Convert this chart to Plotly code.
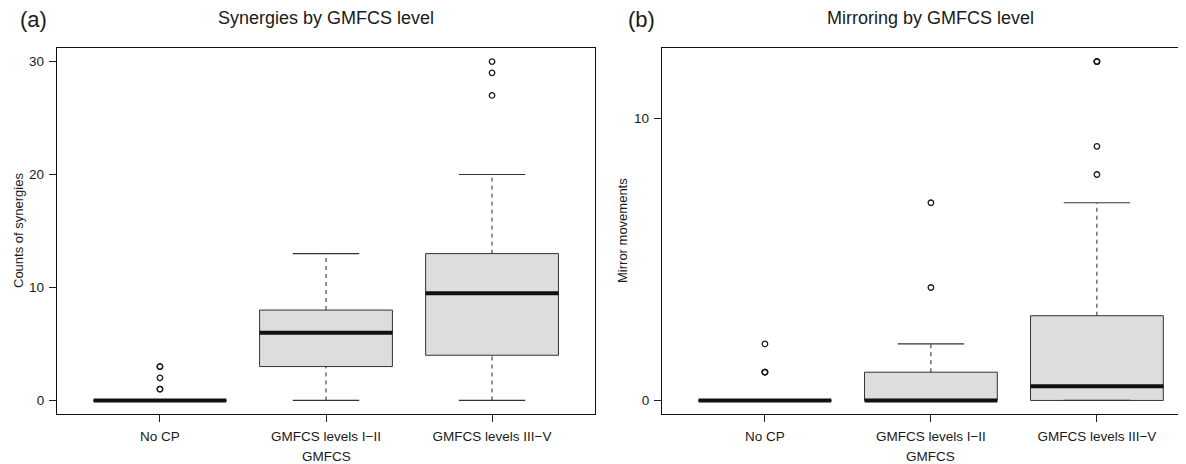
import plotly.graph_objects as go

# ---------------- data ----------------
categories = ["No CP", "GMFCS levels I\u2212II", "GMFCS levels III\u2212V"]
positions = [1, 2, 3]

# Panel (a): counts of synergies
syn_q1 = [0, 3, 4]
syn_median = [0, 6, 9.5]
syn_q3 = [0, 8, 13]
syn_lower = [0, 0, 0]
syn_upper = [0, 13, 20]
syn_outliers = [[1, 1, 2, 3, 3], [], [27, 29, 30]]
syn_ticks = [0, 10, 20, 30]

# Panel (b): mirror movements
mir_q1 = [0, 0, 0]
mir_median = [0, 0, 0.5]
mir_q3 = [0, 1, 3]
mir_lower = [0, 0, 0]
mir_upper = [0, 2, 7]
mir_outliers = [[1, 1, 1, 2], [4, 7], [8, 9, 12, 12, 12]]
mir_ticks = [0, 10]

# ---------------- style ----------------
WIN_W, WIN_H = 1186, 464
OFF = 8  # default page body margin
W, H = WIN_W - OFF, WIN_H - OFF
FONT = "Liberation Sans, Arial, Helvetica, sans-serif"
TXT = "#1a1a1a"
FILL = "#dcdddf"
EDGE = "#333333"
BOX_W = 0.8
CAP_W = 0.4


def px(x):
    return (x - OFF) / W


def py(y):
    return 1 - (y - OFF) / H


fig = go.Figure()


def add_panel(xa, ya, q1, med, q3, lo, hi, outl):
    for i, x in enumerate(positions):
        fig.add_trace(go.Box(
            x=[x], q1=[q1[i]], median=[med[i]], q3=[q3[i]],
            lowerfence=[q1[i]], upperfence=[q3[i]],
            width=BOX_W, fillcolor=FILL, line=dict(color=EDGE, width=1),
            whiskerwidth=0, boxpoints=False, showlegend=False,
            hoverinfo="skip", xaxis=xa, yaxis=ya))
    wx, wy, cx, cy, mx, my, ox, oy = [], [], [], [], [], [], [], []
    for i, x in enumerate(positions):
        wx += [x, x, None, x, x, None]
        wy += [q3[i], hi[i], None, lo[i], q1[i], None]
        cx += [x - CAP_W / 2, x + CAP_W / 2, None, x - CAP_W / 2, x + CAP_W / 2, None]
        cy += [hi[i], hi[i], None, lo[i], lo[i], None]
        mx += [x - BOX_W / 2, x + BOX_W / 2, None]
        my += [med[i], med[i], None]
        ox += [x] * len(outl[i])
        oy += outl[i]
    fig.add_trace(go.Scatter(x=wx, y=wy, mode="lines",
                             line=dict(color="#222222", width=1, dash="4px,4px"),
                             showlegend=False, hoverinfo="skip", xaxis=xa, yaxis=ya))
    fig.add_trace(go.Scatter(x=cx, y=cy, mode="lines",
                             line=dict(color=EDGE, width=1.2),
                             showlegend=False, hoverinfo="skip", xaxis=xa, yaxis=ya))
    fig.add_trace(go.Scatter(x=mx, y=my, mode="lines",
                             line=dict(color="#111111", width=4),
                             showlegend=False, hoverinfo="skip", xaxis=xa, yaxis=ya))
    fig.add_trace(go.Scatter(x=ox, y=oy, mode="markers",
                             marker=dict(symbol="circle-open", size=5.5,
                                         color="#1a1a1a", line=dict(width=1.3)),
                             showlegend=False, hoverinfo="skip", xaxis=xa, yaxis=ya))


add_panel("x", "y", syn_q1, syn_median, syn_q3, syn_lower, syn_upper, syn_outliers)
add_panel("x2", "y2", mir_q1, mir_median, mir_q3, mir_lower, mir_upper, mir_outliers)

UNIT = 166.0  # px per category unit
A_LEFT, A_RIGHT = 57, 595
B_LEFT = 662
TOP, BOTTOM = 48, 414
ydom = [py(BOTTOM), py(TOP)]

axis_common = dict(showgrid=False, zeroline=False, showline=True,
                   linecolor="#111111", linewidth=1.3, ticks="outside",
                   ticklen=7, tickwidth=1, tickcolor="#222222",
                   tickfont=dict(family=FONT, size=13.5, color=TXT))

fig.update_layout(
    width=W, height=H, autosize=False,
    margin=dict(l=0, r=0, t=0, b=0),
    paper_bgcolor="white", plot_bgcolor="white",
    font=dict(family=FONT, color=TXT),
    xaxis=dict(domain=[px(A_LEFT), px(A_RIGHT)], range=[0.38, 3.62],
               tickvals=positions, ticktext=categories, mirror=True,
               anchor="y", ticklabelstandoff=3, **axis_common),
    yaxis=dict(domain=ydom, range=[-1.2, 31.2], tickvals=syn_ticks,
               mirror=True, anchor="x", ticklabelstandoff=2, **axis_common),
    xaxis2=dict(domain=[px(B_LEFT), 1.0],
                range=[0.38, 0.38 + (WIN_W - B_LEFT) / UNIT],
                tickvals=positions, ticktext=categories, mirror=True,
                anchor="y2", ticklabelstandoff=3, **axis_common),
    yaxis2=dict(domain=ydom, range=[-0.48, 12.48], tickvals=mir_ticks,
                mirror=False, anchor="x2", ticklabelstandoff=2, **axis_common),
)

B_CENTER = B_LEFT + 3.24 * UNIT / 2
ann = [
    dict(text="(a)", x=18, y=20, xanchor="left", size=22),
    dict(text="Synergies by GMFCS level", x=(A_LEFT + A_RIGHT) / 2, y=18,
         xanchor="center", size=18),
    dict(text="(b)", x=626, y=20, xanchor="left", size=22),
    dict(text="Mirroring by GMFCS level", x=B_CENTER, y=18, xanchor="center", size=18),
    dict(text="GMFCS", x=(A_LEFT + A_RIGHT) / 2, y=456, xanchor="center", size=13.5),
    dict(text="GMFCS", x=B_CENTER, y=456, xanchor="center", size=13.5),
]
for a in ann:
    fig.add_annotation(text=a["text"], x=px(a["x"]), y=py(a["y"]), xref="paper", yref="paper",
                       xanchor=a["xanchor"], yanchor="middle", showarrow=False,
                       font=dict(family=FONT, size=a["size"], color=TXT))

for txt, xpx in [("Counts of synergies", 18), ("Mirror movements", 622)]:
    fig.add_annotation(text=txt, x=px(xpx), y=py(231), xref="paper", yref="paper",
                       xanchor="center", yanchor="middle", textangle=-90, showarrow=False,
                       font=dict(family=FONT, size=13, color=TXT))

fig.write_html("out.html")
